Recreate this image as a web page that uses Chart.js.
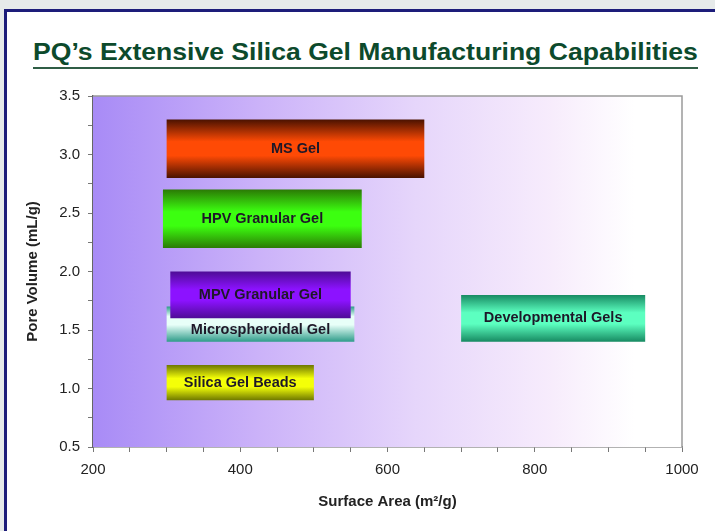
<!DOCTYPE html>
<html>
<head>
<meta charset="utf-8">
<title>PQ Silica Gel Capabilities</title>
<script src="https://cdn.jsdelivr.net/npm/chart.js@4.4.1/dist/chart.umd.min.js"></script>
<style>
  html, body { margin: 0; padding: 0; width: 715px; height: 531px; overflow: hidden; background: #e6eaea; }
  .frame { position: absolute; left: 4px; top: 9px; width: 760px; height: 560px; background: #fff;
           border-left: 3px solid #1d1d7a; border-top: 3px solid #1d1d7a; }
  h1 { position: absolute; left: 33px; top: 39px; margin: 0; font: bold 23px/26px "Liberation Sans", Arial, sans-serif;
       color: #0c4a2c; white-space: nowrap; transform-origin: left center; transform: scaleX(1.155); }
  .rule { position: absolute; left: 33px; top: 67px; width: 665px; height: 2px; background: #2f5d45; }
  #chart { position: absolute; left: 0; top: 0; }
</style>
</head>
<body>
<div class="frame"></div>
<h1>PQ’s Extensive Silica Gel Manufacturing Capabilities</h1>
<div class="rule"></div>
<canvas id="chart" width="715" height="531"></canvas>

<script>
/* ---------- data ---------- */
const gelNames = ['MS Gel', 'HPV Granular Gel', 'MPV Granular Gel', 'Microspheroidal Gel', 'Silica Gel Beads', 'Developmental Gels'];
const areaMin  = [300, 295, 305, 300, 300, 700];   // surface area, m2/g
const areaMax  = [650, 565, 550, 555, 500, 950];
const poreMin  = [2.8, 2.2, 1.6, 1.4, 0.9, 1.4];   // pore volume, mL/g
const poreMax  = [3.3, 2.7, 2.0, 1.7, 1.2, 1.8];
const xTicks   = [200, 400, 600, 800, 1000];
const yTicks   = [0.5, 1.0, 1.5, 2.0, 2.5, 3.0, 3.5];

/* ---------- styles ---------- */
const edgeColors = ['#4a1200', '#2b7a05', '#4e0c96', '#2f9c8a', '#6f7800', '#178a62'];
const midColors  = ['#ff4a05', '#3cff10', '#8c12ff', '#e8fff8', '#f4ff08', '#5cffc0'];
const glowAt     = [0.5, 0.5, 0.5, 0.4, 0.5, 0.5];
const FONT = '"Liberation Sans", Arial, sans-serif';

function barFill(i) {
  return function (ctx) {
    const chart = ctx.chart;
    const y = chart.scales.y;
    if (!chart.chartArea || !y) return midColors[i];
    const g = chart.ctx.createLinearGradient(0, y.getPixelForValue(poreMax[i]), 0, y.getPixelForValue(poreMin[i]));
    g.addColorStop(0, edgeColors[i]);
    g.addColorStop(Math.max(0, glowAt[i] - 0.12), midColors[i]);
    g.addColorStop(Math.min(1, glowAt[i] + 0.12), midColors[i]);
    g.addColorStop(1, edgeColors[i]);
    return g;
  };
}

const datasets = gelNames.map((name, i) => ({
  label: name,
  data: [
    { x: areaMin[i], y: poreMin[i] },
    { x: areaMax[i], y: poreMin[i] },
    { x: areaMax[i], y: poreMax[i] },
    { x: areaMin[i], y: poreMax[i] },
    { x: areaMin[i], y: poreMin[i] }
  ],
  showLine: true,
  fill: 'shape',
  borderWidth: 0,
  borderColor: 'rgba(0,0,0,0)',
  pointRadius: 0,
  pointHoverRadius: 0,
  tension: 0,
  backgroundColor: barFill(i)
}));

/* plot-area background: purple fading to white */
const plotBackground = {
  id: 'plotBackground',
  beforeDatasetsDraw(chart) {
    const { ctx, chartArea: a } = chart;
    const g = ctx.createLinearGradient(a.left, 0, a.right, 0);
    g.addColorStop(0, '#a88bf6');
    g.addColorStop(0.28, '#cbb2f9');
    g.addColorStop(0.55, '#e6d6fb');
    g.addColorStop(0.78, '#f7ecfc');
    g.addColorStop(0.92, '#ffffff');
    ctx.save();
    ctx.fillStyle = g;
    ctx.fillRect(a.left, a.top, a.right - a.left, a.bottom - a.top);
    ctx.restore();
  },
  afterDraw(chart) {
    const { ctx, chartArea: a } = chart;
    ctx.save();
    ctx.strokeStyle = '#9a9a9a';
    ctx.lineWidth = 1.5;
    ctx.beginPath();
    ctx.moveTo(a.left, a.top);
    ctx.lineTo(a.right, a.top);
    ctx.lineTo(a.right, a.bottom);
    ctx.stroke();
    ctx.restore();
  }
};

/* names written in the middle of each (visible) bar */
const barLabels = {
  id: 'barLabels',
  afterDatasetsDraw(chart) {
    const { ctx, scales: { x, y } } = chart;
    ctx.save();
    ctx.font = 'bold 14.5px ' + FONT;
    ctx.fillStyle = '#1e1828';
    ctx.textAlign = 'center';
    ctx.textBaseline = 'middle';
    gelNames.forEach((name, i) => {
      let top = poreMax[i];
      // bars with a lower index are drawn over this one
      for (let j = 0; j < i; j++) {
        const overlapX = areaMin[j] < areaMax[i] && areaMax[j] > areaMin[i];
        if (overlapX && poreMin[j] < top && poreMin[j] > poreMin[i]) top = poreMin[j];
      }
      const cx = x.getPixelForValue((areaMin[i] + areaMax[i]) / 2);
      const cy = y.getPixelForValue((poreMin[i] + top) / 2);
      ctx.fillText(name, cx, cy);
    });
    ctx.restore();
  }
};

new Chart(document.getElementById('chart'), {
  type: 'scatter',
  data: { datasets },
  options: {
    responsive: false,
    animation: false,
    devicePixelRatio: 1,
    layout: { padding: { left: 0, top: 96, right: 33, bottom: 0 } },
    plugins: { legend: { display: false }, tooltip: { enabled: false } },
    scales: {
      x: {
        type: 'linear',
        min: 200, max: 1000,
        afterFit: s => { s.height = 84; },
        grid: { drawOnChartArea: false, tickLength: 5, color: '#777' },
        border: { color: '#666', width: 1.5 },
        ticks: {
          stepSize: 50, autoSkip: false, maxRotation: 0, padding: 9,
          color: '#222', font: { family: FONT, size: 15 },
          callback: v => xTicks.includes(v) ? String(v) : ''
        },
        title: {
          display: true, text: 'Surface Area (m²/g)', color: '#222',
          font: { family: FONT, size: 15, weight: 'bold' }, padding: { top: 0, bottom: 20 }
        }
      },
      y: {
        type: 'linear',
        min: 0.5, max: 3.5,
        afterFit: s => { s.width = 93; },
        grid: { drawOnChartArea: false, tickLength: 5, color: '#777' },
        border: { color: '#666', width: 1.5 },
        ticks: {
          stepSize: 0.25, autoSkip: false, padding: 8,
          color: '#222', font: { family: FONT, size: 15 },
          callback: v => yTicks.includes(v) ? v.toFixed(1) : ''
        },
        title: {
          display: true, text: 'Pore Volume (mL/g)', color: '#222',
          font: { family: FONT, size: 15, weight: 'bold' }, padding: { top: 24, bottom: 0 }
        }
      }
    }
  },
  plugins: [plotBackground, barLabels]
});
</script>
</body>
</html>
